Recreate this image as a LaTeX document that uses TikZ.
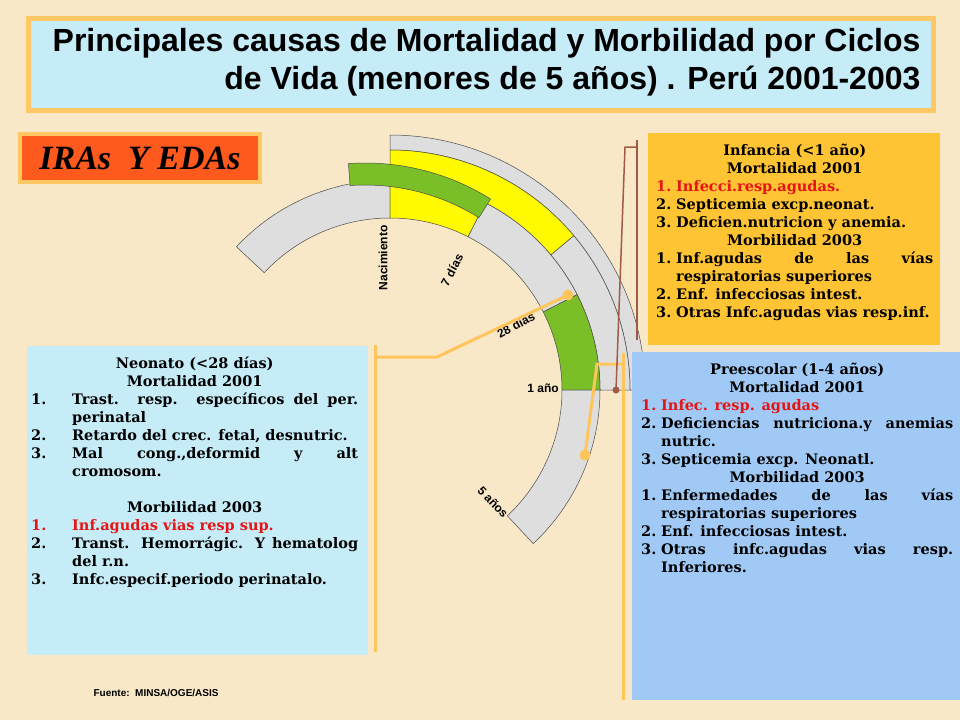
\documentclass[tikz,border=0pt]{standalone}
\usepackage{fontspec}
\setmainfont{DejaVu Serif}
\setsansfont{Liberation Sans}
\newfontfamily\titfont{Liberation Serif}
\usetikzlibrary{positioning}
\definecolor{fondo}{RGB}{248,232,200}
\definecolor{marco}{RGB}{255,200,100}
\definecolor{celeste}{RGB}{198,236,248}
\definecolor{azul}{RGB}{160,202,245}
\definecolor{naranja}{RGB}{255,196,51}
\definecolor{rojizo}{RGB}{255,90,30}
\definecolor{gris}{RGB}{222,222,222}
\definecolor{amarillo}{RGB}{255,250,0}
\definecolor{verde}{RGB}{122,190,40}
\definecolor{linea}{RGB}{255,196,90}
\definecolor{cafe}{RGB}{160,90,70}
\definecolor{rojo}{RGB}{230,20,20}
\newlength{\sangria}
\setlength{\sangria}{20pt}
\newcommand{\itm}[2]{\par\hangindent=\sangria\hangafter=1\noindent\makebox[\sangria][l]{#1}#2\par}
\newcommand{\tit}[1]{\par{\centering #1\par}}
\tikzset{
  caja/.style={inner sep=0pt, anchor=north west, align=justify,
    font=\bfseries\fontsize{14.5}{18}\selectfont},
  anillo/.style={draw=black!70, line width=0.5pt},
  guia/.style={linea, line width=3pt},
  etiq/.style={font=\sffamily\bfseries\fontsize{12}{14}\selectfont},
  punto/.style={circle, fill=linea, inner sep=0pt, minimum size=11pt}
}
\begin{document}
\hyphenpenalty=10000
\exhyphenpenalty=10000
\begin{tikzpicture}[x=1pt,y=-1pt]
  \useasboundingbox (0,0) rectangle (960,720);
  \fill[fondo] (0,0) rectangle (960,720);
  %titulo
  \draw[marco, line width=5pt, fill=celeste] (28,18) rectangle (933,110);
  \node (titulo) [anchor=north east, align=right, font=\sffamily\bfseries\fontsize{32}{38}\selectfont]
    at (924,25) {Principales causas de Mortalidad y Morbilidad por Ciclos\\de Vida (menores de 5 años) . Perú 2001-2003};
  \node (iras) [draw=marco, line width=4pt, fill=rojizo, minimum width=240pt, minimum height=48pt,
    font=\titfont\bfseries\itshape\fontsize{34}{36}\selectfont] at (140,158) {IRAs\ \ Y EDAs};
  %anillos
  \fill[anillo, fill=gris] (390,390) ++(-90:255) arc (-90:0:255) -- ++(-15,0) arc (0:-90:240) -- cycle;
  \fill[anillo, fill=amarillo] (390,390) ++(-90:240) arc (-90:-40:240) -- ++(140:30) arc (-40:-90:210) -- cycle;
  \fill[anillo, fill=gris] (390,390) ++(-40:240) arc (-40:0:240) -- ++(-30,0) arc (0:-40:210) -- cycle;
  \fill[anillo, fill=gris] (390,390) ++(-137:210) arc (-137:-90:210) -- ++(0,38) arc (-90:-137:172) -- cycle;
  \fill[anillo, fill=amarillo] (390,390) ++(-90:210) arc (-90:-63:210) -- ++(117:38) arc (-63:-90:172) -- cycle;
  \fill[anillo, fill=gris] (390,390) ++(-63:210) arc (-63:-27:210) -- ++(153:38) arc (-27:-63:172) -- cycle;
  \fill[anillo, fill=verde] (390,390) ++(-27:210) arc (-27:0:210) -- ++(-38,0) arc (0:-27:172) -- cycle;
  \fill[anillo, fill=gris] (390,390) ++(0:210) arc (0:47:210) -- ++(227:38) arc (47:0:172) -- cycle;
  \fill[anillo, fill=verde] (365,400) ++(-94:237) arc (-94:-58:237) -- ++(122:22) arc (-58:-94:215) -- cycle;
  %etiquetas
  \node (nac) [etiq, rotate=90, anchor=east] at (383,222) {Nacimiento};
  \node (d7) [etiq, rotate=62] at (452,270) {7 días};
  \node (d28) [etiq, rotate=28] at (516,325) {28 días};
  \node (a1) [etiq] at (543,388) {1 año};
  \node (a5) [etiq, rotate=-47] at (493,502) {5 años};
  %cajas
  \fill[celeste] (27,346) rectangle (368,655);
  \fill[naranja] (648,133) rectangle (940,345);
  \fill[azul] (632,352) rectangle (960,700);
  \node (neo) [caja, text width=327pt] at (31,350) {\setlength{\sangria}{41pt}%
    \tit{Neonato (<28 días)}\tit{Mortalidad 2001}
    \itm{1.}{Trast. resp. específicos del per. perinatal}
    \itm{2.}{Retardo del crec. fetal, desnutric.}
    \itm{3.}{Mal cong.,deformid y alt cromosom.}
    \vspace{18pt}\tit{Morbilidad 2003}
    {\color{rojo}\itm{1.}{Inf.agudas vias resp sup.}}
    \itm{2.}{Transt. Hemorrágic. Y hematolog del r.n.}
    \itm{3.}{Infc.especif.periodo perinatalo.}};
  \node (inf) [caja, text width=277pt] at (656,137) {%
    \tit{Infancia (<1 año)}\tit{Mortalidad 2001}
    {\color{rojo}\itm{1.}{Infecci.resp.agudas.}}
    \itm{2.}{Septicemia excp.neonat.}
    \itm{3.}{Deficien.nutricion y anemia.}
    \tit{Morbilidad 2003}
    \itm{1.}{Inf.agudas de las vías respiratorias superiores}
    \itm{2.}{Enf. infecciosas intest.}
    \itm{3.}{Otras Infc.agudas vias resp.inf.}};
  \node (pre) [caja, text width=312pt] at (641,356) {%
    \tit{Preescolar (1-4 años)}\tit{Mortalidad 2001}
    {\color{rojo}\itm{1.}{Infec. resp. agudas}}
    \itm{2.}{Deficiencias nutriciona.y anemias nutric.}
    \itm{3.}{Septicemia excp. Neonatl.}
    \tit{Morbilidad 2003}
    \itm{1.}{Enfermedades de las vías respiratorias superiores}
    \itm{2.}{Enf. infecciosas intest.}
    \itm{3.}{Otras infc.agudas vias resp. Inferiores.}};
  %conectores
  \node (pneo) [punto] at (568,295) {};
  \node (ppre) [punto] at (585,455) {};
  \node (pinf) [circle, fill=cafe, inner sep=0pt, minimum size=7pt] at (616,390) {};
  \draw[guia] (375,345) -- (375,652);
  \draw[guia] (375,357) -- (437,357) -- (pneo.center);
  \draw[guia] (623,353) -- (623,700);
  \draw[guia] (623,364) -- (597,364) -- (ppre.center);
  \draw[cafe, line width=1.5pt] (637,140) -- (637,340);
  \draw[cafe, line width=1.5pt] (637,147) -- (625,147) -- (pinf.center);
  \node (fuente) [font=\sffamily\bfseries\fontsize{10}{12}\selectfont, anchor=west] at (90,693) {Fuente:\ \ MINSA/OGE/ASIS};
\end{tikzpicture}
\end{document}
